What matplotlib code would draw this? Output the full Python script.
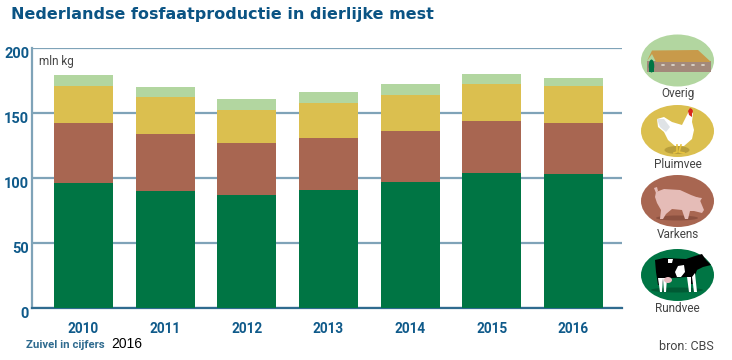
import matplotlib
matplotlib.use("Agg")
import numpy as np
import matplotlib.pyplot as plt
from matplotlib.patches import Ellipse, Polygon
from matplotlib.transforms import ScaledTranslation

years = ["2010", "2011", "2012", "2013", "2014", "2015", "2016"]
rundvee = [96, 90, 87, 91, 97, 104, 103]
varkens = [46, 44, 40, 40, 39, 40, 39.5]
pluimvee = [29, 28.5, 25, 27, 28, 28, 28.5]
overig = [8, 7.5, 9, 8, 8, 8, 6]
y_ticks = [0, 50, 100, 150, 200]

GREEN = "#007544"
BROWN = "#a86651"
YELLOW = "#dbbf4f"
LIGHT = "#b2d6a0"
BLUE = "#0f5a8a"
GRID = "#7fa3b8"
GREY = "#444444"

W, H = 732, 360
fig = plt.figure(figsize=(W / 100, H / 100), dpi=100)
ax = fig.add_axes([32 / W, 1 - 308 / H, 590 / W, 260 / H])

x = np.arange(len(years))
bottom = np.zeros(len(years))
for vals, col in [(rundvee, GREEN), (varkens, BROWN), (pluimvee, YELLOW), (overig, LIGHT)]:
    ax.bar(x, vals, width=0.722, bottom=bottom, color=col, zorder=3)
    bottom = bottom + np.array(vals)

ax.set_xlim(-0.63, 6.594)
ax.set_ylim(0, 200)
ax.set_yticks(y_ticks)
ax.set_xticks(x)
ax.set_xticklabels(years, family="Roboto", weight="bold", fontsize=9.8, color=BLUE)
ax.set_yticklabels(y_ticks, family="Roboto", weight="bold", fontsize=10.5, color=BLUE)
ax.tick_params(length=0)
ax.tick_params(axis="x", pad=10)
ax.tick_params(axis="y", pad=2)
for lbl in ax.get_yticklabels():
    lbl.set_transform(lbl.get_transform() + ScaledTranslation(0, -3 / 72, fig.dpi_scale_trans))
ax.grid(axis="y", color=GRID, lw=1.6, zorder=1)
for s in ["top", "right"]:
    ax.spines[s].set_visible(False)
ax.spines["left"].set_color(GRID)
ax.spines["left"].set_linewidth(1.6)
ax.spines["bottom"].set_color("#2f6b8f")
ax.spines["bottom"].set_linewidth(1.6)
ax.text(0.012, 0.975, "mln kg", transform=ax.transAxes, fontsize=8.5, color=GREY, family="Roboto", va="top")

# overlay in pixel coordinates for title, footer and the icons
ov = fig.add_axes([0, 0, 1, 1])
ov.set_xlim(0, W)
ov.set_ylim(H, 0)
ov.axis("off")
ov.patch.set_alpha(0)

ov.text(11, 15, "Nederlandse fosfaatproductie in dierlijke mest", fontsize=11.5, weight="bold",
        color="#0b5484", family="DejaVu Sans", va="center")
ov.text(26, 345, "Zuivel in cijfers", fontsize=8.2, weight="bold", color="#2f6b8f", family="Roboto", va="center")
ov.text(111, 344.5, "2016", fontsize=10, color="black", family="Liberation Sans", va="center")
ov.text(714, 346, "bron: CBS", fontsize=9, color=GREY, family="Roboto", va="center", ha="right")

labels = ["Overig", "Pluimvee", "Varkens", "Rundvee"]
label_y = [93, 164, 235, 308]
centers = [60.5, 131, 201, 275]
circle_cols = [LIGHT, YELLOW, BROWN, GREEN]
for lab, ly, cy, col in zip(labels, label_y, centers, circle_cols):
    ov.add_patch(Ellipse((677.5, cy), 73, 52, color=col, lw=0))
    ov.text(677.5, ly, lab, fontsize=8.5, color=GREY, family="Roboto", ha="center", va="center")


def poly(pts, col, z=5):
    ov.add_patch(Polygon(pts, closed=True, color=col, lw=0, zorder=z))


# Overig: stal
poly([(647, 72), (647, 61), (711, 61), (711, 72)], "#a3897a")
poly([(647, 61), (652, 50.5), (698, 50), (711, 62), (656, 62), (652, 54)], "#c89a4a", 6)
ov.add_patch(Ellipse((651.5, 66), 5.5, 13, color=GREEN, lw=0, zorder=7))
poly([(649, 72), (654, 72), (654, 66), (649, 66)], GREEN, 7)
for px in [663, 673, 683, 693, 703]:
    ov.add_patch(Ellipse((px, 65), 4, 2, color="#d8d0c4", lw=0, zorder=7))

# Pluimvee: kip
ov.add_patch(Ellipse((677, 150), 25, 8, color="#b89e3c", lw=0, zorder=5))
poly([(657, 119), (664, 117), (672, 122), (682, 125), (686, 117), (689, 111), (693, 113),
      (692, 122), (694, 130), (692, 139), (684, 146), (675, 146), (668, 140), (664, 132), (658, 127)], "white", 6)
poly([(657, 119), (664, 119), (670, 127), (666, 132), (660, 127)], "#dfe3e6", 7)
poly([(688, 111), (690, 108), (692, 109), (693, 111), (692, 114), (692, 117), (689, 115)], "#d8281e", 8)
ov.plot([677, 677, 674], [145, 152, 153], color="#e8c440", lw=1.2, zorder=7)
ov.plot([681, 679, 684], [145, 152, 153], color="#e8c440", lw=1.2, zorder=7)

# Varkens: varken
ov.add_patch(Ellipse((677, 218), 42, 5, color="#8c5140", lw=0, zorder=5))
poly([(656, 192), (664, 189), (680, 190), (691, 195), (699, 198), (704, 210), (702, 213),
      (694, 211), (690, 211), (688, 219), (685, 219), (682, 210), (672, 209), (666, 214),
      (663, 219), (660, 219), (661, 210), (657, 203), (655, 197)], "#e5bcb7", 6)
poly([(694, 197), (702, 198), (699, 203)], "#e5bcb7", 7)
poly([(656, 193), (654, 188), (657, 187), (658, 191)], "#e5bcb7", 7)

# Rundvee: koe
ov.add_patch(Ellipse((677, 290), 52, 5, color="#005a34", lw=0, zorder=5))
poly([(655, 260), (664, 258), (686, 259), (695, 256), (702, 254), (706, 260), (711, 265),
      (703, 267), (697, 270), (694, 278), (693, 284), (690, 284), (687, 277), (672, 278), (664, 279),
      (662, 285), (658, 285), (656, 272)], "black", 6)
poly([(678, 266), (684, 265), (685, 272), (681, 277), (677, 277), (675, 272)], "white", 7)
poly([(668, 259), (673, 259), (672, 263), (668, 263)], "white", 7)
poly([(658, 278), (663, 278), (662, 292), (660, 292)], "white", 7)
poly([(663, 278), (667, 278), (666, 292), (664, 292)], "white", 7)
poly([(687, 277), (691, 277), (691, 292), (689, 292)], "white", 7)
poly([(692, 277), (695, 273), (697, 292), (694, 292)], "white", 7)
ov.add_patch(Ellipse((668, 280), 8, 6, color="#e8bcc0", lw=0, zorder=8))

fig.savefig("out.png", dpi=100)
